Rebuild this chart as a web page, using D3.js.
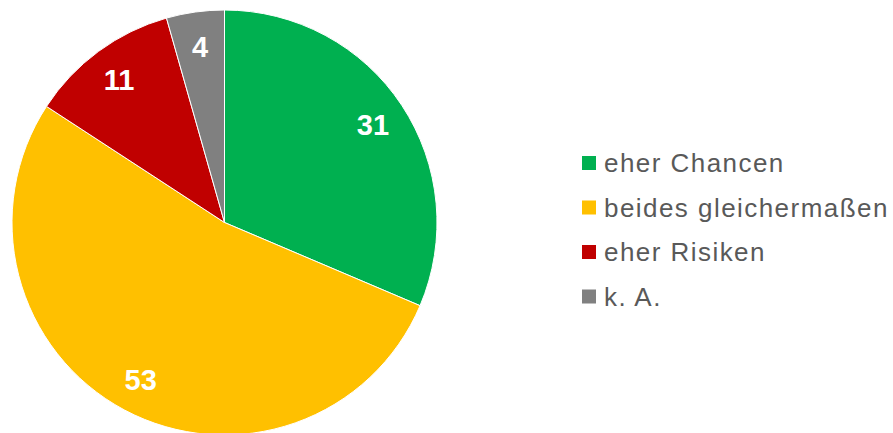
<!DOCTYPE html>
<html lang="de">
<head>
    <meta charset="UTF-8">
    <title>Chancen und Risiken</title>
    <script src="https://d3js.org/d3.v7.min.js"></script>
    <style>
        body {
            margin: 0;
            background: #fff;
            font-family: "Liberation Sans", Arial, sans-serif;
        }
        svg {
            display: block;
        }
        .slice {
            stroke: #fff;
            stroke-width: 1px;
        }
        .value-label {
            fill: #fff;
            font-weight: bold;
            font-size: 29px;
        }
        .legend-text {
            fill: #595959;
            font-size: 26px;
            letter-spacing: 1.45px;
        }
    </style>
</head>
<body>
    <svg id="chart" width="893" height="433"></svg>

    <script>
        // Data (shares in percent; labels show the rounded value)
        const categories = ["eher Chancen", "beides gleichermaßen", "eher Risiken", "k. A."];
        const values = [31.4, 52.8, 11.4, 4.4];
        const colors = ["#00B050", "#FFC000", "#C00000", "#808080"];

        const cx = 224.5, cy = 222.5, radius = 212.5;

        const svg = d3.select("#chart");

        const table = categories.map((c, i) => ({category: c, value: values[i], color: colors[i]}));

        const pie = d3.pie()
            .value(d => d.value)
            .sort(null);

        const arc = d3.arc()
            .innerRadius(0)
            .outerRadius(radius);

        const labelArc = d3.arc()
            .innerRadius(178)
            .outerRadius(178);

        const g = svg.append("g")
            .attr("transform", `translate(${cx},${cy})`);

        const arcs = pie(table);

        g.selectAll(".slice")
            .data(arcs)
            .enter()
            .append("path")
            .attr("class", "slice")
            .attr("d", arc)
            .attr("fill", d => d.data.color);

        g.selectAll(".value-label")
            .data(arcs)
            .enter()
            .append("text")
            .attr("class", "value-label")
            .attr("transform", d => `translate(${labelArc.centroid(d)})`)
            .attr("text-anchor", "middle")
            .attr("dy", "0.36em")
            .text(d => Math.round(d.data.value));

        // Legend
        const legend = svg.append("g")
            .attr("transform", "translate(582,0)");

        const rowY = d3.scalePoint()
            .domain(categories)
            .range([163, 296.5]);

        const rows = legend.selectAll(".legend-row")
            .data(table)
            .enter()
            .append("g")
            .attr("class", "legend-row")
            .attr("transform", d => `translate(0,${rowY(d.category)})`);

        rows.append("rect")
            .attr("x", 0)
            .attr("y", -7)
            .attr("width", 14)
            .attr("height", 14)
            .attr("fill", d => d.color);

        rows.append("text")
            .attr("class", "legend-text")
            .attr("x", 22)
            .attr("dy", "0.35em")
            .text(d => d.category);
    </script>
</body>
</html>
